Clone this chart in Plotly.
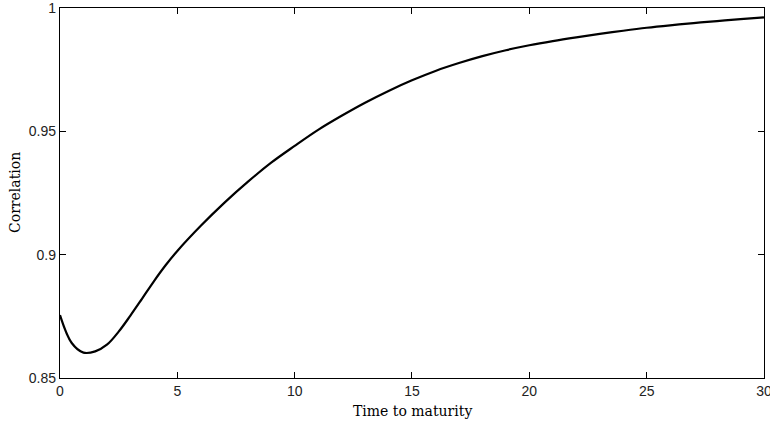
import plotly.graph_objects as go

maturity = [0, 0.5, 1.0, 1.5, 2.0, 2.5, 3.0, 3.5, 4.0, 4.5, 5, 6, 7, 8, 9, 10,
            11, 12, 13, 14, 15, 16, 17, 18, 19, 20, 21, 22, 23, 24, 25, 26, 27, 28, 29, 30]
correlation = [0.8755, 0.8642, 0.8603, 0.8608, 0.8635, 0.8688, 0.8753, 0.8822, 0.8892,
               0.8957, 0.9015, 0.9117, 0.9210, 0.9295, 0.9373, 0.9441, 0.9506, 0.9563,
               0.9616, 0.9664, 0.9707, 0.9745, 0.9777, 0.9805, 0.9829, 0.9849, 0.9866,
               0.9881, 0.9895, 0.9908, 0.9920, 0.9930, 0.9939, 0.9947, 0.9955, 0.9962]

x_ticks = [0, 5, 10, 15, 20, 25, 30]
y_ticks = [0.85, 0.9, 0.95, 1.0]
y_ticklabels = ["0.85", "0.9", "0.95", "1"]
x_title = "Time to maturity"
y_title = "Correlation"

fig = go.Figure(go.Scatter(
    x=maturity, y=correlation, mode="lines",
    line=dict(color="black", width=2.2, shape="spline", smoothing=1.0),
    showlegend=False, cliponaxis=False,
))

tickfont = dict(family="Arial, Liberation Sans, sans-serif", size=14, color="#222")
titlefont = dict(family="DejaVu Serif, serif", size=14, color="black")

axis_common = dict(
    ticks="inside", ticklen=6, tickwidth=1, tickcolor="black",
    showline=True, linecolor="black", linewidth=1.3, mirror="ticks",
    showgrid=False, zeroline=False, tickfont=tickfont, automargin=False,
    ticklabeloverflow="allow",
)

fig.update_layout(
    width=770, height=427,
    margin=dict(l=60, r=6, t=8, b=49),
    paper_bgcolor="white", plot_bgcolor="white",
    xaxis=dict(range=[0, 30.0005], tickvals=x_ticks, **axis_common),
    yaxis=dict(range=[0.85, 1.00001], tickvals=y_ticks, ticktext=y_ticklabels, **axis_common),
    annotations=[
        dict(text=x_title, xref="paper", yref="paper", x=0.5, y=0, xanchor="center",
             yanchor="top", yshift=-23, showarrow=False, font=titlefont),
        dict(text=y_title, xref="paper", yref="paper", x=0, y=0.5, xanchor="right",
             yanchor="middle", xshift=-35, textangle=-90, showarrow=False, font=titlefont),
    ],
)

# remove the browser's default 8px body margin so the figure fills the window exactly
fig.write_html("out.html", config={"displayModeBar": False},
               post_script="document.body.style.margin='0';document.body.style.overflow='hidden';")
